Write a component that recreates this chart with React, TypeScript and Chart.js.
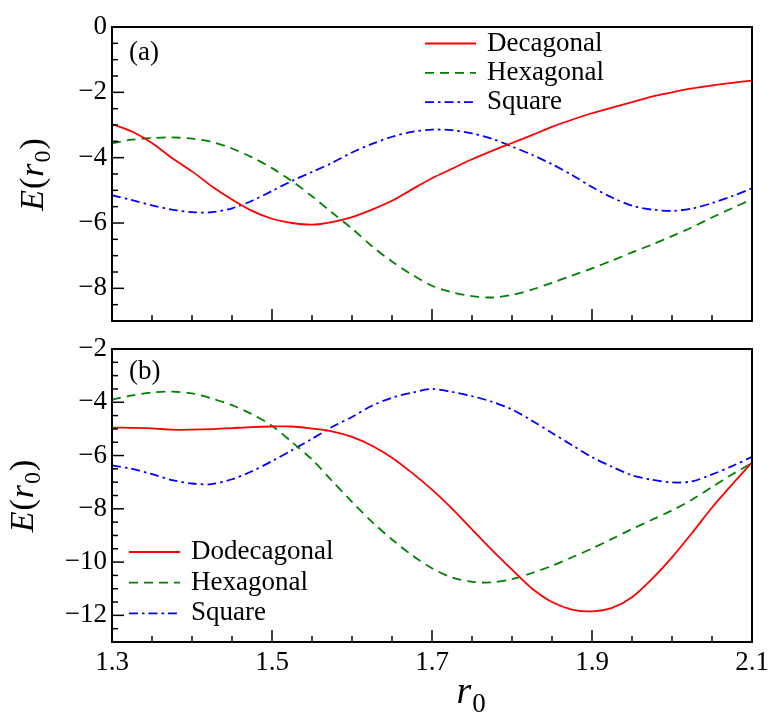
import React, { useEffect, useRef } from 'react';
import { Chart, registerables } from 'chart.js';

Chart.register(...registerables);

// ---------- data ----------
const r0 = [1.3, 1.325, 1.35, 1.375, 1.4, 1.425, 1.45, 1.475, 1.5, 1.525, 1.55, 1.575, 1.6, 1.625, 1.65, 1.675, 1.7, 1.725, 1.75, 1.775, 1.8, 1.825, 1.85, 1.875, 1.9, 1.925, 1.95, 1.975, 2.0, 2.025, 2.05, 2.075, 2.1];

// panel (a)
const decagonalA = [-2.97, -3.2, -3.55, -4.01, -4.42, -4.88, -5.28, -5.63, -5.87, -6.0, -6.05, -5.97, -5.82, -5.59, -5.32, -4.97, -4.63, -4.34, -4.05, -3.79, -3.55, -3.31, -3.06, -2.84, -2.64, -2.47, -2.3, -2.13, -2.0, -1.88, -1.79, -1.71, -1.64];
const hexagonalA = [-3.56, -3.45, -3.4, -3.38, -3.42, -3.52, -3.72, -3.99, -4.32, -4.72, -5.18, -5.68, -6.17, -6.71, -7.18, -7.58, -7.92, -8.12, -8.24, -8.28, -8.2, -8.04, -7.83, -7.61, -7.39, -7.15, -6.9, -6.66, -6.4, -6.13, -5.83, -5.55, -5.27];
const squareA = [-5.15, -5.3, -5.46, -5.59, -5.67, -5.67, -5.55, -5.32, -5.02, -4.71, -4.44, -4.16, -3.84, -3.58, -3.36, -3.21, -3.14, -3.16, -3.26, -3.42, -3.66, -3.91, -4.2, -4.53, -4.9, -5.22, -5.47, -5.59, -5.63, -5.56, -5.39, -5.18, -4.94];

// panel (b)
const dodecagonalB = [-4.95, -4.96, -4.98, -5.03, -5.03, -5.01, -4.97, -4.93, -4.91, -4.91, -4.99, -5.09, -5.3, -5.63, -6.08, -6.65, -7.28, -7.99, -8.77, -9.55, -10.28, -10.99, -11.5, -11.78, -11.85, -11.72, -11.32, -10.63, -9.82, -8.91, -7.95, -7.09, -6.26];
const hexagonalB = [-3.9, -3.74, -3.63, -3.6, -3.67, -3.86, -4.11, -4.45, -4.88, -5.5, -6.15, -6.95, -7.74, -8.49, -9.15, -9.74, -10.23, -10.58, -10.74, -10.76, -10.64, -10.41, -10.14, -9.82, -9.49, -9.13, -8.76, -8.41, -8.06, -7.66, -7.18, -6.71, -6.28];
const squareB = [-6.37, -6.5, -6.7, -6.92, -7.05, -7.07, -6.89, -6.59, -6.21, -5.8, -5.37, -4.93, -4.55, -4.13, -3.83, -3.64, -3.5, -3.61, -3.77, -3.98, -4.27, -4.69, -5.15, -5.61, -6.06, -6.42, -6.74, -6.91, -7.01, -6.97, -6.71, -6.4, -6.05];

const xTickLabels = [1.3, 1.5, 1.7, 1.9, 2.1];
const yTicksA = [-8, -6, -4, -2, 0];
const yTicksB = [-12, -10, -8, -6, -4, -2];

const seriesLabelsA = ['Decagonal', 'Hexagonal', 'Square'];
const seriesLabelsB = ['Dodecagonal', 'Hexagonal', 'Square'];

// ---------- styles ----------
const SERIF = '"Liberation Serif", "Times New Roman", serif';
const RED = '#ff0000';
const GREEN = '#008000';
const BLUE = '#0000ff';
const DASH = [9, 6];
const DASHDOT = [9, 4, 2.5, 4];

const fmtMinus = (v: number) => (v < 0 ? '\u2212' + Math.abs(v) : String(v));

function toPoints(vals: number[]) {
  return r0.map((x, i) => ({ x, y: vals[i] }));
}

function makeDatasets(labels: string[], vals: number[][]) {
  const colors = [RED, GREEN, BLUE];
  const dashes = [[], DASH, DASHDOT];
  return labels.map((label, i) => ({
    label,
    data: toPoints(vals[i]),
    borderColor: colors[i],
    backgroundColor: colors[i],
    borderWidth: 1.8,
    borderDash: dashes[i],
    pointRadius: 0,
    tension: 0.3,
    fill: false,
  }));
}

const decorPlugin = {
  id: 'decor',
  afterDraw(chart: any, _args: any, opts: any) {
    const ctx = chart.ctx as CanvasRenderingContext2D;
    const a = chart.chartArea;
    const xs = chart.scales.x;
    const ys = chart.scales.y;
    ctx.save();
    ctx.strokeStyle = '#000';
    ctx.setLineDash([]);
    // bottom ticks (inward)
    ctx.lineWidth = 1.5;
    for (let i = 0; i <= 16; i++) {
      const v = 1.3 + i * 0.05;
      const px = xs.getPixelForValue(v);
      const len = i % 4 === 0 ? 12 : 6;
      ctx.beginPath();
      ctx.moveTo(px, a.bottom);
      ctx.lineTo(px, a.bottom - len);
      ctx.stroke();
    }
    // left ticks (inward)
    for (let k = Math.ceil(ys.min * 2); k <= Math.floor(ys.max * 2); k++) {
      const v = k / 2;
      const py = ys.getPixelForValue(v);
      const len = k % 4 === 0 ? 12 : 6;
      ctx.beginPath();
      ctx.moveTo(a.left, py);
      ctx.lineTo(a.left + len, py);
      ctx.stroke();
    }
    // frame
    ctx.lineWidth = 2;
    ctx.strokeRect(a.left, a.top, a.right - a.left, a.bottom - a.top);

    // panel label
    ctx.fillStyle = '#000';
    ctx.textAlign = 'left';
    ctx.textBaseline = 'alphabetic';
    ctx.font = `27px ${SERIF}`;
    ctx.fillText(opts.panel, a.left + 17, a.top + opts.panelDy);

    // legend
    chart.data.datasets.forEach((ds: any, i: number) => {
      const y = a.top + opts.legendDy + i * opts.legendStep;
      const x0 = a.left + opts.legendDx;
      ctx.strokeStyle = ds.borderColor;
      ctx.lineWidth = ds.borderWidth;
      ctx.setLineDash(ds.borderDash || []);
      ctx.beginPath();
      ctx.moveTo(x0, y);
      ctx.lineTo(x0 + 51, y);
      ctx.stroke();
      ctx.setLineDash([]);
      ctx.fillStyle = '#000';
      ctx.font = `27px ${SERIF}`;
      ctx.fillText(ds.label, x0 + 62, y + 7);
    });

    // y title: E(r0)
    const cy = (a.top + a.bottom) / 2;
    ctx.translate(opts.yTitleX, cy);
    ctx.rotate(-Math.PI / 2);
    const pieces = [
      { t: 'E', f: `italic 34px ${SERIF}`, dy: 0 },
      { t: '(', f: `34px ${SERIF}`, dy: 0 },
      { t: 'r', f: `italic 34px ${SERIF}`, dy: 0 },
      { t: '0', f: `24px ${SERIF}`, dy: 7 },
      { t: ')', f: `34px ${SERIF}`, dy: 0 },
    ];
    let total = 0;
    const widths = pieces.map((p) => {
      ctx.font = p.f;
      const w = ctx.measureText(p.t).width + 1;
      total += w;
      return w;
    });
    let cx = -total / 2;
    pieces.forEach((p, i) => {
      ctx.font = p.f;
      ctx.fillText(p.t, cx, p.dy);
      cx += widths[i];
    });
    ctx.setTransform(1, 0, 0, 1, 0, 0);

    // x title: r0
    if (opts.xTitle) {
      const xc = xs.getPixelForValue(opts.xTitleAt);
      const by = a.bottom + 61;
      ctx.font = `italic 38px ${SERIF}`;
      const wr = ctx.measureText('r').width;
      ctx.font = `27px ${SERIF}`;
      const w0 = ctx.measureText('0').width;
      const start = xc - (wr + w0 + 1) / 2;
      ctx.font = `italic 38px ${SERIF}`;
      ctx.fillText('r', start, by);
      ctx.font = `27px ${SERIF}`;
      ctx.fillText('0', start + wr + 1, by + 9);
    }
    ctx.restore();
  },
};

function makeConfig(panel: 'a' | 'b'): any {
  const isA = panel === 'a';
  const datasets = isA
    ? makeDatasets(seriesLabelsA, [decagonalA, hexagonalA, squareA])
    : makeDatasets(seriesLabelsB, [dodecagonalB, hexagonalB, squareB]);
  const yTicks = isA ? yTicksA : yTicksB;
  return {
    type: 'line',
    data: { datasets },
    plugins: [decorPlugin],
    options: {
      responsive: false,
      animation: false,
      events: [],
      layout: {
        padding: isA
          ? { top: 27, right: 32, bottom: 717 - 321, left: 0 }
          : { top: 349, right: 32, bottom: 0, left: 0 },
      },
      scales: {
        x: {
          type: 'linear',
          min: 1.3,
          max: 2.1,
          display: !isA,
          grid: { display: false, drawTicks: false },
          border: { display: false },
          afterBuildTicks: (s: any) => {
            s.ticks = xTickLabels.map((v) => ({ value: v }));
          },
          afterFit: (s: any) => {
            s.height = isA ? 0 : 75;
          },
          ticks: {
            color: '#000',
            padding: 5,
            maxRotation: 0,
            font: { family: SERIF, size: 27 },
            callback: (v: any) => Number(v).toFixed(1),
          },
        },
        y: {
          type: 'linear',
          min: isA ? -9 : -13,
          max: isA ? 0 : -2,
          grid: { display: false, drawTicks: false },
          border: { display: false },
          afterBuildTicks: (s: any) => {
            s.ticks = yTicks.map((v) => ({ value: v }));
          },
          afterFit: (s: any) => {
            s.width = 112;
          },
          ticks: {
            color: '#000',
            padding: 5,
            font: { family: SERIF, size: 27 },
            callback: (v: any) => fmtMinus(Number(v)),
          },
        },
      },
      plugins: {
        legend: { display: false },
        tooltip: { enabled: false },
        decor: isA
          ? { panel: '(a)', panelDy: 33, legendDx: 313, legendDy: 16.5, legendStep: 29.3, yTitleX: 43, xTitle: false }
          : { panel: '(b)', panelDy: 30, legendDx: 17, legendDy: 203, legendStep: 30.7, yTitleX: 33, xTitle: true, xTitleAt: 1.749 },
      },
    },
  };
}

export default function App() {
  const refA = useRef<HTMLCanvasElement | null>(null);
  const refB = useRef<HTMLCanvasElement | null>(null);

  useEffect(() => {
    document.body.style.margin = '0';
    const ca = new Chart(refA.current as HTMLCanvasElement, makeConfig('a'));
    const cb = new Chart(refB.current as HTMLCanvasElement, makeConfig('b'));
    return () => {
      ca.destroy();
      cb.destroy();
    };
  }, []);

  const cs: React.CSSProperties = { position: 'absolute', left: 0, top: 0, width: 784, height: 717 };
  return (
    <div style={{ position: 'relative', width: 784, height: 717, background: '#fff' }}>
      <canvas ref={refA} width={784} height={717} style={cs} />
      <canvas ref={refB} width={784} height={717} style={cs} />
    </div>
  );
}
